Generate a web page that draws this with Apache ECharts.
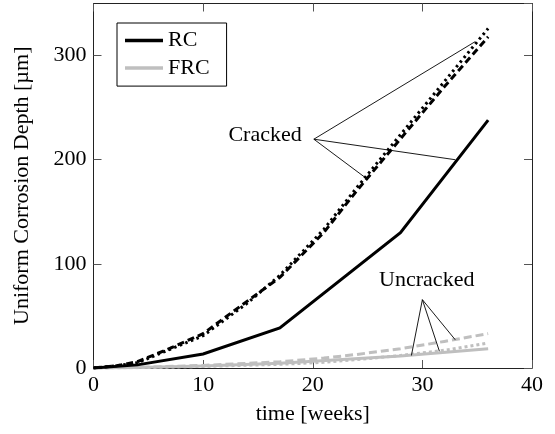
<!DOCTYPE html>
<html>
<head>
<meta charset="utf-8">
<script src="https://cdn.jsdelivr.net/npm/echarts@6/dist/echarts.min.js"></script>
<style>html,body{margin:0;padding:0;background:#fff;}#c{width:555px;height:434px;}</style>
</head>
<body>
<div id="c"></div>
<script>
// ---- data ----
var xTicks = [0, 10, 20, 30, 40];
var yTicks = [0, 100, 200, 300];
var rcSolid   = [[0,0],[4,3],[10,13.5],[17,38.5],[28,130],[36,238]];
var rcDashed  = [[0,0],[2,2],[4,6],[7,19],[10,33],[14,64],[17,87],[21,130],[24,170],[28,220],[32,270],[36,318]];
var rcDotted  = [[0,0],[2,2],[4,5],[7,18],[10,31],[14,62],[17,89],[21,133],[24,173],[28,224],[32,275],[36,326]];
var frcSolid  = [[0,0],[4,0.5],[10,2],[17,4.5],[28,11.5],[36,18.5]];
var frcDashed = [[0,0],[4,0.5],[10,2.5],[17,6],[21,9.5],[24,13],[28,18.5],[32,25.5],[36,33]];
var frcDotted = [[0,0],[4,0.3],[10,1.5],[17,3.5],[21,5.5],[24,8],[28,12],[32,17],[36,24]];
// annotations (data coordinates)
var crackedText = [15.65, 223.5];
var crackedAnchor = [20.1, 219.7];
var crackedEnds = [[34.8, 313.3], [33.0, 200], [24.9, 182]];
var uncrackedText = [30.4, 84];
var uncrackedAnchor = [30.0, 65.6];
var uncrackedEnds = [[29.0, 12.0], [31.55, 16.2], [33.0, 27.1]];

var FONT = 'Liberation Serif';
var FS = 22;
var BLACK = '#000000';
var GRAY = '#bfbfbf';

function segs(anchor, ends) {
  return ends.map(function (e) { return { coords: [anchor, e] }; });
}
function lineSeries(name, data, color, type) {
  return {
    name: name, type: 'line', data: data, symbol: 'none', z: color === BLACK ? 3 : 2,
    lineStyle: { color: color, width: 3, type: type, cap: 'butt', join: 'miter' },
    itemStyle: { color: color }
  };
}
function textSeries(pos, txt) {
  return {
    type: 'scatter', data: [pos], symbolSize: 1, z: 5,
    itemStyle: { color: '#fff', opacity: 1 },
    label: { show: true, position: 'inside', formatter: txt, color: '#000',
      textBorderWidth: 0, textBorderColor: 'transparent', opacity: 1,
      fontFamily: FONT, fontSize: FS }
  };
}

var chart = echarts.init(document.getElementById('c'), null, { renderer: 'canvas' });
function axisCommon() {
  return {
    axisLine: { show: true, onZero: false, lineStyle: { color: '#222', width: 1 } },
    axisTick: { show: true, inside: true, length: 8, lineStyle: { color: '#555', width: 1 } },
    splitLine: { show: false }
  };
}
chart.setOption({
  animation: false,
  backgroundColor: '#fff',
  grid: { left: 93.5, right: 23, top: 3.5, bottom: 66 },
  legend: {
    data: ['RC', 'FRC'], orient: 'vertical', left: 117, top: 23,
    icon: 'rect', itemWidth: 38, itemHeight: 3.5, itemGap: 5.6,
    padding: [6.5, 17, 7, 8],
    borderColor: '#000', borderWidth: 1, backgroundColor: '#fff',
    textStyle: { fontFamily: FONT, fontSize: FS, color: '#000' },
    selectedMode: false
  },
  xAxis: [
    Object.assign({
      type: 'value', min: xTicks[0], max: xTicks[xTicks.length - 1], interval: 10, position: 'bottom',
      name: 'time [weeks]', nameLocation: 'middle', nameGap: 35,
      nameTextStyle: { fontFamily: FONT, fontSize: FS, color: '#000' },
      axisLabel: { fontFamily: FONT, fontSize: FS, color: '#000', margin: 6 }
    }, axisCommon()),
    Object.assign({
      type: 'value', min: xTicks[0], max: xTicks[xTicks.length - 1], interval: 10, position: 'top',
      axisLabel: { show: false }
    }, axisCommon())
  ],
  yAxis: [
    Object.assign({
      type: 'value', min: 0, max: 350, interval: 100, position: 'left',
      name: 'Uniform Corrosion Depth [µm]', nameLocation: 'middle', nameGap: 60, nameRotate: 90,
      nameTextStyle: { fontFamily: FONT, fontSize: FS, color: '#000' },
      axisLabel: { fontFamily: FONT, fontSize: FS, color: '#000', margin: 7, showMaxLabel: false,
        formatter: function (v) { return yTicks.indexOf(v) >= 0 ? String(v) : ''; } }
    }, axisCommon()),
    Object.assign({
      type: 'value', min: 0, max: 350, interval: 100, position: 'right',
      axisLabel: { show: false }
    }, axisCommon())
  ],
  series: [
    lineSeries('FRC', frcSolid, GRAY, 'solid'),
    lineSeries('FRC dashed', frcDashed, GRAY, [8, 4]),
    lineSeries('FRC dotted', frcDotted, GRAY, [3, 3]),
    lineSeries('RC', rcSolid, BLACK, 'solid'),
    lineSeries('RC dashed', rcDashed, BLACK, [7, 4]),
    lineSeries('RC dotted', rcDotted, BLACK, [2.5, 3.5]),
    {
      type: 'lines', coordinateSystem: 'cartesian2d', z: 4,
      data: segs(crackedAnchor, crackedEnds).concat(segs(uncrackedAnchor, uncrackedEnds)),
      lineStyle: { color: '#000', width: 0.9, opacity: 1, curveness: 0 },
      symbol: 'none'
    },
    textSeries(crackedText, 'Cracked'),
    textSeries(uncrackedText, 'Uncracked')
  ]
});
</script>
</body>
</html>
